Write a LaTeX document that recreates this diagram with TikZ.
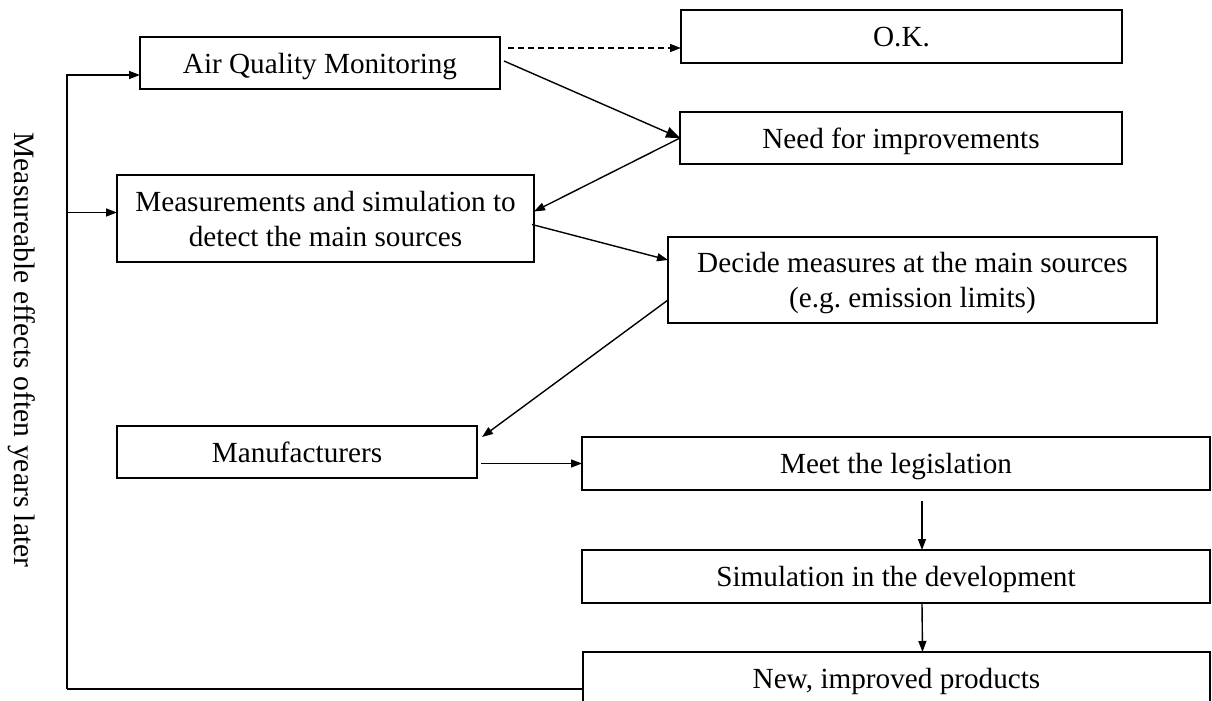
\documentclass[tikz,border=0pt]{standalone}
\usepackage{fontspec}
\setmainfont{Liberation Serif}
\usetikzlibrary{arrows.meta}
\begin{document}
\begin{tikzpicture}[x=0.5pt,y=-0.5pt,
  box/.style={draw,line width=0.8pt,inner sep=0pt,outer sep=0pt,text depth=0pt,align=center,font=\fontsize{14.6}{17.5}\selectfont},
  arr/.style={line width=0.7pt,-{Triangle[length=5.5pt,width=4pt]}},
  bigarr/.style={line width=0.7pt,-{Triangle[length=7pt,width=5.5pt]}}]
\useasboundingbox (0,0) rectangle (1212,701);
\node[box,minimum width=180pt,minimum height=26pt] (aqm) at (320,63) {Air Quality Monitoring};
\node[box,minimum width=220.5pt,minimum height=26.5pt] (ok) at (901.5,36.5) {O.K.};
\node[box,minimum width=221pt,minimum height=26pt] (need) at (901,138) {Need for improvements};
\node[box,minimum width=208.5pt,minimum height=43.5pt] (meas) at (325.5,218.5) {Measurements and simulation to\\detect the main sources};
\node[box,minimum width=244.5pt,minimum height=43pt] (decide) at (912.5,280) {Decide measures at the main sources\\(e.g.\ emission limits)};
\node[box,minimum width=180pt,minimum height=26pt] (manu) at (297,452) {Manufacturers};
\node[box,minimum width=314pt,minimum height=26.5pt] (meet) at (896,463.5) {Meet the legislation};
\node[box,minimum width=314pt,minimum height=26.5pt] (sim) at (896,576.5) {Simulation in the development};
\node[box,minimum width=313.5pt,minimum height=26pt] (new) at (896.5,678) {New, improved products};
\node[font=\fontsize{14.8}{17}\selectfont,rotate=-90] (later) at (22,350) {Measureable effects often years later};
% connectors
\coordinate (okfrom) at ([xshift=4pt,yshift=7.5pt]aqm.east);
\draw[arr,dash pattern=on 3pt off 2pt] (okfrom) -- (okfrom -| ok.west);
\draw[bigarr] ([xshift=2pt,yshift=1pt]aqm.east) -- (need.west);
\draw[arr] (need.west) -- ([yshift=3.5pt]meas.east);
\draw[arr] ([xshift=-1pt,yshift=-3pt]meas.east) -- ([yshift=10pt]decide.west);
\draw[arr] ([yshift=-10pt]decide.west) -- ([xshift=2.5pt,yshift=-5.5pt]manu.north east);
\draw[arr,shorten <=2pt] (meet.west -| manu.east) -- (meet.west);
\draw[arr] ([xshift=13pt,yshift=-5.5pt]meet.south) -- ([xshift=13pt]sim.north);
\draw[arr] ([xshift=13pt]sim.south) -- ([xshift=13pt]new.north);
% feedback loop
\coordinate (loop) at (67,689);
\coordinate (aqmin) at ([yshift=-6pt]aqm.west);
\coordinate (measin) at ([yshift=3pt]meas.west);
\draw[line width=0.7pt] (new.west |- loop) -- (loop);
\draw[arr] (loop) |- (aqmin);
\draw[arr] (loop |- measin) -- (measin);
\end{tikzpicture}
\end{document}
